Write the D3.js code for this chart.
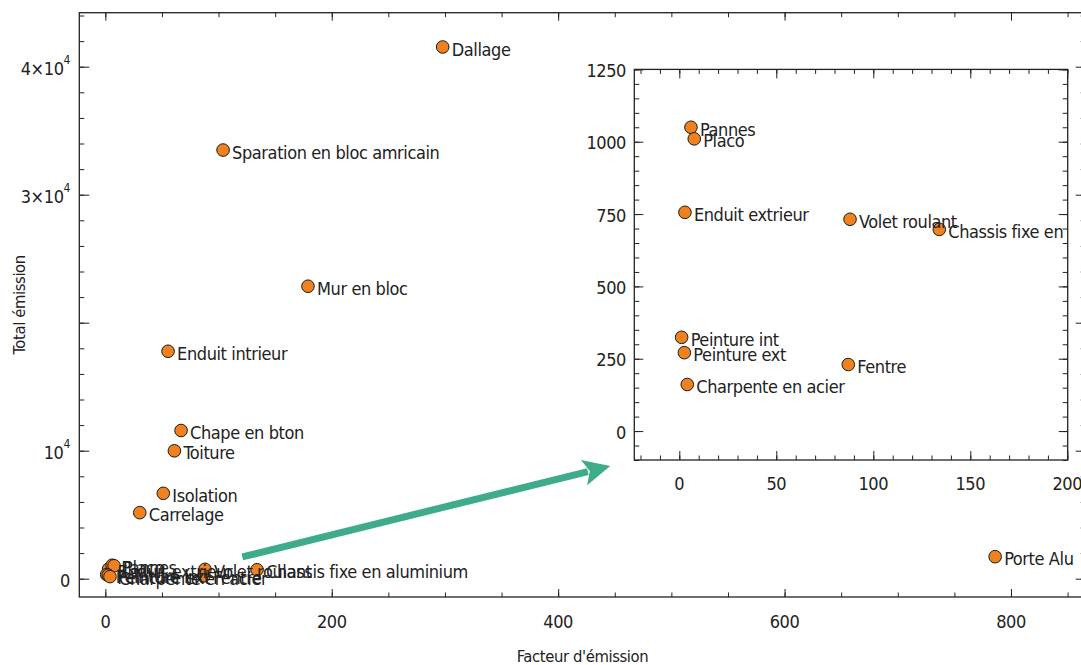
<!DOCTYPE html>
<html>
<head>
<meta charset="utf-8">
<script src="https://cdn.jsdelivr.net/npm/d3@7"></script>
<style>
  body { margin: 0; background: #fff; }
  svg text { font-family: "DejaVu Sans", sans-serif; font-stretch: condensed; fill: #222; letter-spacing: -0.4px; }
</style>
</head>
<body>
<div id="chart"></div>
<script>
// points : name, emission factor, total emission
const names = ["Dallage", "Sparation en bloc amricain", "Mur en bloc", "Enduit intrieur",
  "Chape en bton", "Toiture", "Isolation", "Carrelage", "Porte Alu",
  "Chassis fixe en aluminium", "Volet roulant", "Enduit extrieur", "Pannes", "Placo",
  "Peinture int", "Peinture ext", "Fentre", "Charpente en acier"];
const factors = [298, 104, 179, 55.4, 66.9, 61, 51.2, 30.4, 786,
  134, 88, 2.9, 6.0, 7.7, 1.2, 2.6, 87.1, 4.1];
const totals = [41540, 33490, 22850, 17770, 11580, 9990, 6670, 5160, 1720,
  697, 732, 756, 1050, 1010, 324, 271, 230, 161];

// main axis ticks
const mainXMajor = [0, 200, 400, 600, 800];
const mainYMajor = [0, 10000, 20000, 30000, 40000];
const mainYLabels = [["0", ""], ["10", "4"], ["", ""], ["3\u00d710", "4"], ["4\u00d710", "4"]];
// inset ticks
const insetXMajor = [0, 50, 100, 150, 200];
const insetYMajor = [0, 250, 500, 750, 1000, 1250];

// arrow from main plot toward inset (main data coords)
const arrowFrom = [121, 1700];
const arrowTo = [446, 8800];

const W = 1081, H = 665;
const FS = 18;
const svg = d3.select("#chart").append("svg")
  .attr("width", W).attr("height", H);

const x = d3.scaleLinear().domain([-23, 866]).range([79.3, 1085.7]);
const y = d3.scaleLinear().domain([-1430, 44220]).range([597, 12.7]);

const xi = d3.scaleLinear().domain([-23.2, 200.2]).range([634.3, 1067.7]);
const yi = d3.scaleLinear().domain([-100, 1250]).range([460, 69.4]);

function range(a, b, step) {
  const out = [];
  for (let v = a; v <= b + 1e-9; v += step) out.push(v);
  return out;
}

// frame with inward ticks on all four sides
function frame(g, sx, sy, xMajor, xMinor, yMajor, yMinor, lx, ly) {
  const [x0, x1] = sx.range();
  const [y0, y1] = sy.range();
  const sides = [
    { axis: d3.axisBottom(sx), t: `translate(0,${y0})`, maj: xMajor, min: xMinor, len: lx },
    { axis: d3.axisTop(sx), t: `translate(0,${y1})`, maj: xMajor, min: xMinor, len: lx },
    { axis: d3.axisLeft(sy), t: `translate(${x0},0)`, maj: yMajor, min: yMinor, len: ly },
    { axis: d3.axisRight(sy), t: `translate(${x1},0)`, maj: yMajor, min: yMinor, len: ly }
  ];
  sides.forEach(s => {
    g.append("g").attr("transform", s.t)
      .call(s.axis.tickValues(s.min).tickSize(-s.len[1]).tickFormat("").tickSizeOuter(0))
      .call(a => a.select(".domain").remove());
    g.append("g").attr("transform", s.t)
      .call(s.axis.tickValues(s.maj).tickSize(-s.len[0]).tickFormat("").tickSizeOuter(0))
      .call(a => a.select(".domain").remove());
  });
  g.selectAll(".tick line").attr("stroke", "#222").attr("stroke-width", 1);
  g.append("rect")
    .attr("x", x0).attr("y", y1)
    .attr("width", x1 - x0).attr("height", y0 - y1)
    .attr("fill", "none").attr("stroke", "#222").attr("stroke-width", 1.3);
}

function points(g, sx, sy, clipId) {
  const [x0, x1] = sx.range();
  const [y0, y1] = sy.range();
  svg.append("clipPath").attr("id", clipId)
    .append("rect").attr("x", x0).attr("y", y1).attr("width", x1 - x0).attr("height", y0 - y1);
  const pg = g.append("g").attr("clip-path", `url(#${clipId})`);
  const idx = d3.range(names.length);
  pg.selectAll("circle").data(idx).join("circle")
    .attr("cx", i => sx(factors[i]))
    .attr("cy", i => sy(totals[i]))
    .attr("r", 6.3)
    .attr("fill", "#ef821e")
    .attr("stroke", "#1a1a1a")
    .attr("stroke-width", 1);
  pg.selectAll("text").data(idx).join("text")
    .attr("x", i => sx(factors[i]) + 9)
    .attr("y", i => sy(totals[i]) + 2)
    .attr("dominant-baseline", "central")
    .attr("font-size", FS)
    .text(i => names[i]);
}

// main plot
const main = svg.append("g");
frame(main, x, y, mainXMajor, range(-0, 850, 50), mainYMajor, range(0, 44000, 2000), [8, 4.5], [10, 5]);
points(main, x, y, "clipMain");

main.selectAll(".xlab").data(mainXMajor).join("text")
  .attr("x", d => x(d)).attr("y", 621)
  .attr("text-anchor", "middle").attr("dominant-baseline", "central")
  .attr("font-size", FS).text(d => d);

const yl = main.selectAll(".ylab").data(mainYMajor).join("text")
  .attr("x", 70).attr("y", d => y(d) + 1)
  .attr("text-anchor", "end").attr("dominant-baseline", "central")
  .attr("font-size", FS);
yl.each(function (d, i) {
  const t = d3.select(this);
  t.append("tspan").text(mainYLabels[i][0]);
  if (mainYLabels[i][1]) t.append("tspan").attr("dy", -8).attr("font-size", 12).text(mainYLabels[i][1]);
});

svg.append("text")
  .attr("x", (x.range()[0] + x.range()[1]) / 2).attr("y", 656)
  .attr("text-anchor", "middle").attr("dominant-baseline", "central")
  .attr("font-size", 16.5).text("Facteur d'\u00e9mission");

svg.append("text")
  .attr("transform", `translate(19,${(y.range()[0] + y.range()[1]) / 2}) rotate(-90)`)
  .attr("text-anchor", "middle").attr("dominant-baseline", "central")
  .attr("font-size", 16.5).text("Total \u00e9mission");

// arrow
const ax0 = x(arrowFrom[0]), ay0 = y(arrowFrom[1]);
const ax1 = x(arrowTo[0]), ay1 = y(arrowTo[1]);
const len = Math.hypot(ax1 - ax0, ay1 - ay0);
const ux = (ax1 - ax0) / len, uy = (ay1 - ay0) / len;
const headL = 27, headW = 13;
const bx = ax1 - ux * headL, by = ay1 - uy * headL;
svg.append("line")
  .attr("x1", ax0).attr("y1", ay0).attr("x2", bx + ux * 4).attr("y2", by + uy * 4)
  .attr("stroke", "#3eab8b").attr("stroke-width", 7);
svg.append("path")
  .attr("d", `M${ax1},${ay1}L${bx - uy * headW},${by + ux * headW}L${bx + ux * 6},${by + uy * 6}L${bx + uy * headW},${by - ux * headW}Z`)
  .attr("fill", "#3eab8b");

// inset
const inset = svg.append("g");
inset.append("rect")
  .attr("x", xi.range()[0]).attr("y", yi.range()[1])
  .attr("width", xi.range()[1] - xi.range()[0]).attr("height", yi.range()[0] - yi.range()[1])
  .attr("fill", "#fff");
frame(inset, xi, yi, insetXMajor, range(-20, 200, 10), insetYMajor, range(-100, 1250, 50), [9, 4.5], [9, 5]);
points(inset, xi, yi, "clipInset");

inset.selectAll(".xlab").data(insetXMajor).join("text")
  .attr("x", d => xi(d)).attr("y", 483)
  .attr("text-anchor", "middle").attr("dominant-baseline", "central")
  .attr("font-size", FS).text(d => d);
inset.selectAll(".ylab").data(insetYMajor).join("text")
  .attr("x", 626).attr("y", d => yi(d) + 1)
  .attr("text-anchor", "end").attr("dominant-baseline", "central")
  .attr("font-size", FS).text(d => d);
</script>
</body>
</html>
